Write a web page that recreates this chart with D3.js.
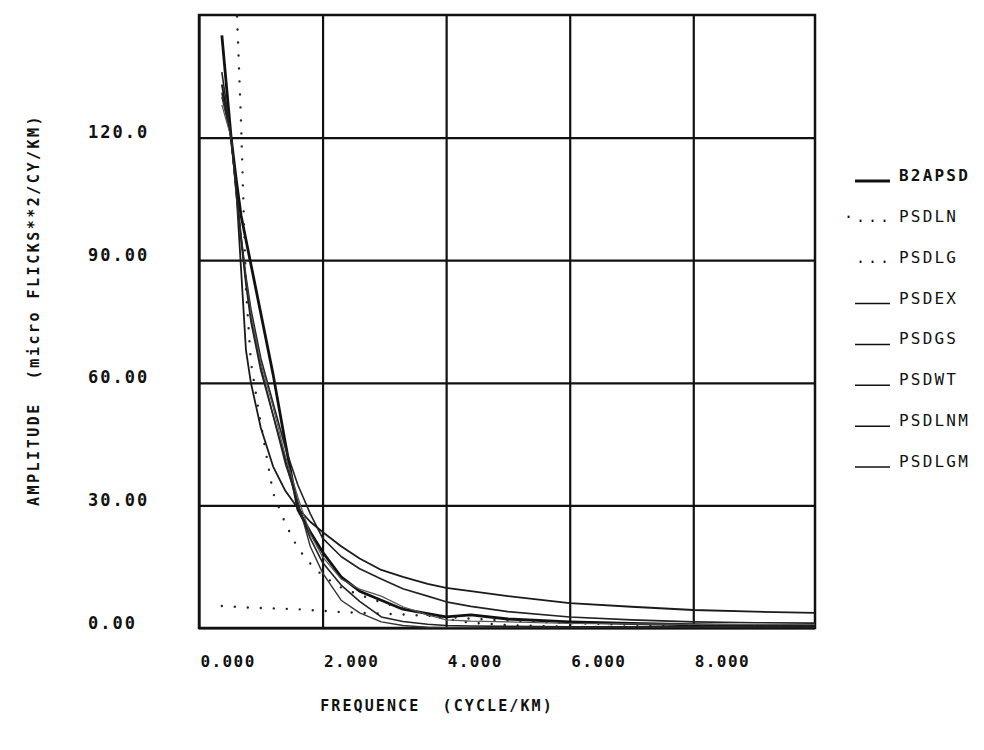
<!DOCTYPE html>
<html>
<head>
<meta charset="utf-8">
<script src="https://cdn.jsdelivr.net/npm/d3@7"></script>
<style>
body { margin: 0; background: #fff; }
text { fill: #111; }
</style>
</head>
<body>
<script>
width = 984
height = 750

// frequency samples (cycle/km)
const freq   = [0.37, 0.52, 0.60, 0.68, 0.76, 0.84, 1.0, 1.2, 1.4, 1.6, 1.8, 2.0, 2.3, 2.6, 2.95, 3.3, 3.7, 4.0, 4.4, 5.0, 6.0, 7.0, 8.0, 9.0, 9.97];

// amplitudes (null = off the top of the plot)
const b2apsd = [145, 120, 110, 101, 95, 89, 77, 62, 45, 29, 23.5, 18.6, 12.5, 9.0, 6.8, 4.6, 3.5, 2.7, 3.2, 2.2, 1.5, 1.1, 0.8, 0.6, 0.5];
const psdln  = [null, null, 156, 124, 83, 65, 50, 33, 25.5, 19.5, 15.8, 12.8, 9.9, 8.1, 6.3, 4.8, 3.2, 2.2, 1.3, 0.7, 0.3, 0.2, 0.1, 0.1, 0.05];
const psdlg  = [5.4, 5.3, 5.2, 5.1, 5.0, 5.0, 4.9, 4.8, 4.7, 4.6, 4.4, 4.2, 3.9, 3.7, 3.5, 3.3, 3.0, 2.7, 2.3, 1.8, 1.2, 0.8, 0.5, 0.35, 0.25];
const psdex  = [131, 120, 108, 96, 86, 78, 66, 55, 44, 35, 28, 22, 17.5, 14.5, 12.0, 9.6, 7.8, 6.4, 5.3, 4.0, 2.7, 2.0, 1.5, 1.3, 1.2];
const psdgs  = [130, 120, 107, 96, 85, 76, 64, 52, 40, 31, 20, 13.5, 6.8, 3.7, 1.5, 0.6, 0.2, 0.1, 0.05, 0, 0, 0, 0, 0, 0];
const psdwt  = [133, 120, 108, 88, 68, 60, 49, 39.5, 33.5, 29.3, 26, 23.5, 20, 17, 14.2, 12.5, 10.8, 9.8, 9.0, 7.8, 6.1, 5.2, 4.4, 4.0, 3.7];
const psdlnm = [128, 120, 106, 95, 85, 77, 65, 54, 42, 32, 23, 17.4, 12, 9.5, 7.8, 5.2, 3.2, 2.0, 1.7, 1.5, 1.1, 1.0, 0.9, 0.85, 0.8];
const psdlgm = [136, 120, 107, 95, 84, 75, 63, 52, 41, 30, 22, 16, 10.5, 6.5, 2.7, 1.6, 0.9, 0.6, 0.5, 0.4, 0.3, 0.3, 0.3, 0.25, 0.2];

const names  = ["B2APSD", "PSDLN", "PSDLG", "PSDEX", "PSDGS", "PSDWT", "PSDLNM", "PSDLGM"];
const values = [b2apsd, psdln, psdlg, psdex, psdgs, psdwt, psdlnm, psdlgm];
const legendMarks = ["___", "·...", "...", "___", "___", "___", "___", "___"];

const xTicks = [0, 2, 4, 6, 8];
const xTickLabels = ["0.000", "2.000", "4.000", "6.000", "8.000"];
const yTicks = [0, 30, 60, 90, 120];
const yTickLabels = ["0.00", "30.00", "60.00", "90.00", "120.0"];

const x0 = 199, x1 = 815, y0 = 15, y1 = 628;
const font = "'DejaVu Sans Mono', monospace";

const x = d3.scaleLinear().domain([0, 9.97]).range([x0, x1]);
const y = d3.scaleLinear().domain([0, 150]).range([y1, y0]);

const svg = d3.select("body")
  .append("svg")
    .attr("width", width)
    .attr("height", height);

svg.append("clipPath")
    .attr("id", "plot")
  .append("rect")
    .attr("x", x0)
    .attr("y", y0)
    .attr("width", x1 - x0)
    .attr("height", y1 - y0);

// grid + tick labels
const gx = svg.append("g")
    .attr("transform", `translate(0,${y1})`)
    .call(d3.axisBottom(x)
      .tickValues(xTicks)
      .tickSize(-(y1 - y0))
      .tickFormat((d, i) => xTickLabels[i]));
gx.select(".domain").remove();
gx.selectAll("line").attr("stroke", "#111").attr("stroke-width", 2.2);
gx.selectAll("text")
    .attr("x", 1)
    .attr("y", 39)
    .attr("dy", 0)
    .attr("text-anchor", "start")
    .attr("font-family", font)
    .attr("font-weight", "bold")
    .attr("font-size", 16)
    .attr("letter-spacing", 1.4);

const gy = svg.append("g")
    .attr("transform", `translate(${x0},0)`)
    .call(d3.axisLeft(y)
      .tickValues(yTicks)
      .tickSize(-(x1 - x0))
      .tickFormat((d, i) => yTickLabels[i]));
gy.select(".domain").remove();
gy.selectAll("line").attr("stroke", "#111").attr("stroke-width", 2.2);
gy.selectAll("text")
    .attr("x", 88 - x0)
    .attr("dy", 0)
    .attr("text-anchor", "start")
    .attr("font-family", font)
    .attr("font-weight", "bold")
    .attr("font-size", 17)
    .attr("letter-spacing", 2);

svg.append("rect")
    .attr("x", x0)
    .attr("y", y0)
    .attr("width", x1 - x0)
    .attr("height", y1 - y0)
    .attr("fill", "none")
    .attr("stroke", "#111")
    .attr("stroke-width", 2.5);

// curves
const styles = [
  {w: 2.8, dash: null, c: "#111"},
  {w: 2.4, dash: "0,13", c: "#222"},
  {w: 2.4, dash: "0,13", c: "#222"},
  {w: 1.6, dash: null, c: "#222"},
  {w: 1.4, dash: null, c: "#333"},
  {w: 1.8, dash: null, c: "#1a1a1a"},
  {w: 1.2, dash: null, c: "#555"},
  {w: 1.6, dash: null, c: "#222"}
];

const line = d3.line()
  .defined(d => d[1] != null)
  .x(d => x(d[0]))
  .y(d => y(d[1]));

const series = names.map((n, i) => ({
  name: n,
  pts: freq.map((f, j) => [f, values[i][j]]),
  style: styles[i]
}));

svg.append("g")
    .attr("clip-path", "url(#plot)")
  .selectAll("path")
  .data(series)
  .join("path")
    .attr("d", d => line(d.pts))
    .attr("fill", "none")
    .attr("stroke", d => d.style.c)
    .attr("stroke-width", d => d.style.w)
    .attr("stroke-linecap", d => d.style.dash ? "round" : "butt")
    .attr("stroke-linejoin", "round")
    .attr("stroke-dasharray", d => d.style.dash);

// axis titles
svg.append("text")
    .attr("x", 437)
    .attr("y", 711)
    .attr("text-anchor", "middle")
    .attr("font-family", font)
    .attr("font-weight", "bold")
    .attr("font-size", 15)
    .attr("letter-spacing", 2.1)
    .attr("xml:space", "preserve")
    .text("FREQUENCE  (CYCLE/KM)");

svg.append("text")
    .attr("transform", "translate(39,310) rotate(-90)")
    .attr("text-anchor", "middle")
    .attr("font-family", font)
    .attr("font-weight", "bold")
    .attr("font-size", 15)
    .attr("letter-spacing", 2.5)
    .attr("xml:space", "preserve")
    .text("AMPLITUDE  (micro FLICKS**2/CY/KM)");

// legend
const ly = d3.scalePoint().domain(names).range([181, 467]);
const leg = svg.append("g")
  .selectAll("g")
  .data(series)
  .join("g")
    .attr("transform", d => `translate(0,${ly(d.name)})`);

leg.filter(d => !d.style.dash)
  .append("line")
    .attr("x1", 855)
    .attr("x2", 890)
    .attr("stroke", "#111")
    .attr("stroke-width", (d, i) => i === 0 ? 2.8 : 1.5);

leg.filter(d => d.style.dash)
  .append("text")
    .attr("x", 892)
    .attr("y", 0)
    .attr("text-anchor", "end")
    .attr("font-family", font)
    .attr("font-size", 15)
    .attr("letter-spacing", 3)
    .text(d => legendMarks[names.indexOf(d.name)]);

leg.append("text")
    .attr("x", 899)
    .attr("y", 0)
    .attr("font-family", font)
    .attr("font-weight", (d, i) => i === 0 ? "bold" : "normal")
    .attr("font-size", 16)
    .attr("letter-spacing", 2.2)
    .text(d => d.name);
</script>
</body>
</html>
